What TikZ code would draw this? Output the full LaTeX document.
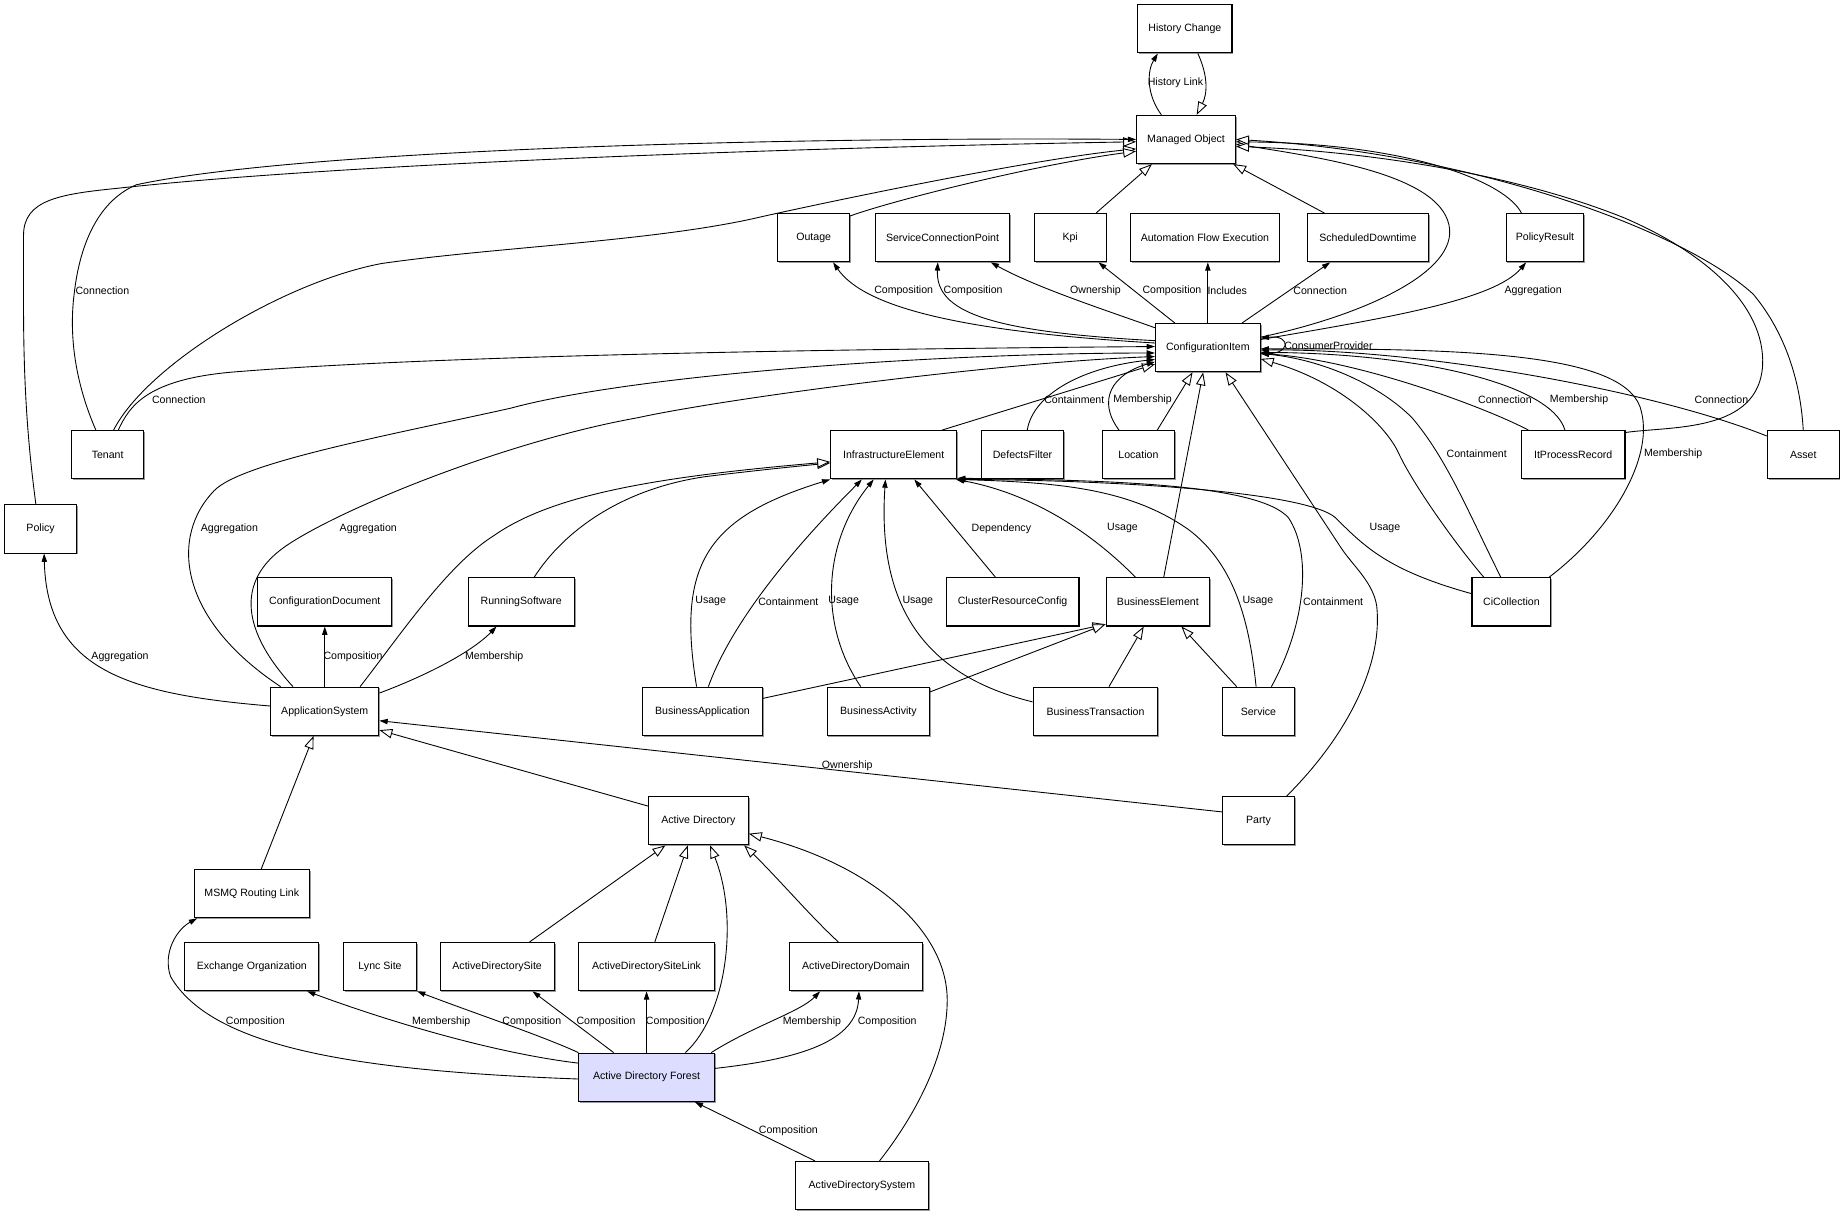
\documentclass[tikz,border=0pt]{standalone}
\usepackage{fontspec}
\setmainfont{Liberation Sans}
\usetikzlibrary{arrows.meta,shadows}
\definecolor{adfill}{RGB}{221,221,255}
\tikzset{
  box/.style={draw, line width=0.9pt, fill=white, minimum height=41pt, inner sep=0pt,
    font=\fontsize{9}{10}\selectfont,
    drop shadow={shadow xshift=1.1pt, shadow yshift=-1.1pt, fill=black!40, opacity=1}},
  conn/.style={line width=0.75pt},
  assoc/.style={conn, -{Triangle[length=7pt,width=4.5pt]}},
  gen/.style={conn, -{Triangle[length=11pt,width=8pt,fill=white]}},
  lbl/.style={font=\fontsize{9}{10}\selectfont, inner sep=0pt}
}
\begin{document}
\begin{tikzpicture}[x=1pt,y=-1pt]
\useasboundingbox (0,0) rectangle (1568,1034);
\fill[white] (0,0) rectangle (1568,1034);
% nodes
\node[box,minimum width=80pt] (hc) at (1007,24.5) {History Change};
\node[box,minimum width=84pt] (mo) at (1008,118.5) {Managed Object};
\node[box,minimum width=61pt] (outage) at (691.5,202) {Outage};
\node[box,minimum width=114pt] (scp) at (801,202) {ServiceConnectionPoint};
\node[box,minimum width=61pt] (kpi) at (909.5,202) {Kpi};
\node[box,minimum width=126pt] (afe) at (1024,202) {Automation Flow Execution};
\node[box,minimum width=103pt] (sd) at (1162.5,202) {ScheduledDowntime};
\node[box,minimum width=66pt] (pr) at (1313,202) {PolicyResult};
\node[box,minimum width=89pt] (ci) at (1026.5,295.5) {ConfigurationItem};
\node[box,minimum width=61pt] (tenant) at (91.5,386.5) {Tenant};
\node[box,minimum width=61pt] (policy) at (34.5,449.5) {Policy};
\node[box,minimum width=107pt] (ie) at (759.5,386.5) {InfrastructureElement};
\node[box,minimum width=70pt] (df) at (869,386.5) {DefectsFilter};
\node[box,minimum width=61pt] (loc) at (967.5,386.5) {Location};
\node[box,minimum width=88pt] (ipr) at (1337,386.5) {ItProcessRecord};
\node[box,minimum width=61pt] (asset) at (1532.5,386.5) {Asset};
\node[box,minimum width=114pt] (cd) at (276,511.5) {ConfigurationDocument};
\node[box,minimum width=90pt] (rs) at (443,511.5) {RunningSoftware};
\node[box,minimum width=113pt] (crc) at (860.5,511.5) {ClusterResourceConfig};
\node[box,minimum width=88pt] (be) at (984,511.5) {BusinessElement};
\node[box,minimum width=67pt] (cic) at (1284.5,511.5) {CiCollection};
\node[box,minimum width=92pt] (apps) at (276,604.5) {ApplicationSystem};
\node[box,minimum width=102pt] (ba) at (597,604.5) {BusinessApplication};
\node[box,minimum width=87pt] (bact) at (746.5,604.5) {BusinessActivity};
\node[box,minimum width=106pt] (bt) at (931,604.5) {BusinessTransaction};
\node[box,minimum width=61pt] (svc) at (1069.5,604.5) {Service};
\node[box,minimum width=85pt] (ad) at (593.5,697.5) {Active Directory};
\node[box,minimum width=61pt] (party) at (1069.5,697.5) {Party};
\node[box,minimum width=98pt] (msmq) at (214,759.5) {MSMQ Routing Link};
\node[box,minimum width=114pt] (eo) at (214,821.5) {Exchange Organization};
\node[box,minimum width=62pt] (lync) at (323,821.5) {Lync Site};
\node[box,minimum width=97pt] (adsite) at (422.5,821.5) {ActiveDirectorySite};
\node[box,minimum width=115pt] (adsl) at (549.5,821.5) {ActiveDirectorySiteLink};
\node[box,minimum width=113pt] (add) at (727.5,821.5) {ActiveDirectoryDomain};
\node[box,minimum width=115pt,fill=adfill] (adf) at (549.5,915.5) {Active Directory Forest};
\node[box,minimum width=113pt] (adsys) at (732.5,1007.5) {ActiveDirectorySystem};
% top
\draw[assoc] ([xshift=-21]mo.north) .. controls (974,80) and (975,60) .. ([xshift=-23]hc.south) node[lbl] at (999,70) {History Link};
\draw[gen] ([xshift=11]hc.south) .. controls (1027,65) and (1026,80) .. ([xshift=9]mo.north);
% into Managed Object
\draw[gen] ([xshift=-4]policy.north) .. controls (24,380) and (20,330) .. (20,260) -- (20,200) .. controls (20,170) and (50,165) .. (100,160) .. controls (300,138) and (700,125) .. ([yshift=-2]mo.west);
\draw[assoc] ([xshift=-10]tenant.north) .. controls (66,330) and (58,290) .. (63,250) .. controls (68,205) and (85,170) .. (116,157) .. controls (250,128) and (650,116) .. (mo.west) node[lbl] at (87,247) {Connection};
\draw[gen] ([xshift=5]tenant.north) .. controls (125,310) and (240,240) .. (324,224) .. controls (420,210) and (560,205) .. (648,184) .. controls (720,168) and (880,135) .. ([yshift=-8]mo.west);
\draw[gen] ([yshift=-2.5]outage.north east) .. controls (760,170) and (880,140) .. ([yshift=-10]mo.west);
\draw[gen] ([xshift=22]kpi.north) -- ([xshift=-29]mo.south);
\draw[gen] ([xshift=-37]sd.north) -- ([xshift=40]mo.south);
\draw[gen] ([yshift=9]ci.east) .. controls (1150,270) and (1235,235) .. (1232,195) .. controls (1228,150) and (1130,135) .. ([yshift=-4]mo.east);
\draw[gen] ([xshift=-20]pr.north) .. controls (1280,155) and (1200,122) .. ([yshift=-2]mo.east);
\draw[gen] ([yshift=-2]ipr.north east) .. controls (1420,362) and (1495,368) .. (1498,310) .. controls (1500,260) and (1450,215) .. (1380,185) .. controls (1280,145) and (1150,128) .. ([yshift=-6]mo.east);
\draw[gen] (asset.north) .. controls (1530,320) and (1515,280) .. (1490,250) .. controls (1430,195) and (1250,130) .. (mo.east);
% out of ConfigurationItem
\draw[assoc] ([yshift=4]ci.west) .. controls (820,282) and (735,262) .. ([xshift=16.5]outage.south) node[lbl] at (768,247) {Composition};
\draw[assoc] ([yshift=6]ci.west) .. controls (840,282) and (795,265) .. ([xshift=-4]scp.south) node[lbl] at (827,247) {Composition};
\draw[assoc] ([yshift=-4]ci.north west) .. controls (935,262) and (880,244) .. ([xshift=41]scp.south) node[lbl] at (931,247) {Ownership};
\draw[assoc] ([xshift=-28]ci.north) -- ([xshift=24]kpi.south) node[lbl] at (996,247) {Composition};
\draw[assoc] (ci.north) -- (ci.north |- afe.south) node[lbl] at (1043,247) {Includes};
\draw[assoc] ([xshift=29]ci.north) -- ([xshift=-32]sd.south) node[lbl] at (1122,247) {Connection};
\draw[assoc] ([yshift=7]ci.east) .. controls (1180,270) and (1270,255) .. ([xshift=-16]pr.south) node[lbl] at (1303,247) {Aggregation};
\draw[assoc] ([yshift=-5]ci.east) .. controls (1098,303) and (1098,284) .. ([yshift=8]ci.east) node[lbl] at (1129,294) {ConsumerProvider};
% into ConfigurationItem from the left
\draw[assoc] ([xshift=9]tenant.north) .. controls (110,345) and (125,322) .. (200,316) .. controls (400,300) and (800,296) .. ([yshift=1]ci.west) node[lbl] at (152,340) {Connection};
\draw[assoc] ([xshift=-37.5]apps.north) .. controls (150,525) and (145,455) .. (182,417) .. controls (205,393) and (330,370) .. (433.6,347) .. controls (540,318) and (800,300) .. ([yshift=-4.5]ci.west) node[lbl] at (195,449) {Aggregation};
\draw[assoc] ([xshift=-27]apps.north) .. controls (200,530) and (205,490) .. (243,464) .. controls (290,432) and (430,375) .. (542,355) .. controls (620,338) and (850,308) .. ([yshift=-7.5]ci.west) node[lbl] at (313,449) {Aggregation};
\draw[gen] ([xshift=41]ie.north) -- ([yshift=-14]ci.west);
\draw[assoc] ([xshift=4]df.north) .. controls (878,335) and (920,312) .. ([yshift=-10]ci.west) node[lbl] at (913,340) {Containment};
\draw[assoc] ([xshift=-16.5]loc.north) .. controls (932,340) and (945,318) .. ([yshift=-12]ci.west) node[lbl] at (971,340) {Membership};
\draw[gen] ([xshift=16]loc.north) -- ([xshift=-13]ci.south);
\draw[gen] ([xshift=5]be.north) -- ([xshift=-4]ci.south);
\draw[gen] ([xshift=24]party.north) .. controls (1150,620) and (1175,560) .. (1170,515) .. controls (1167,495) and (1150,481) .. (1140,466) -- ([xshift=15]ci.south);
% into ConfigurationItem from the right
\draw[assoc] ([xshift=-38]ipr.north) .. controls (1260,345) and (1150,305) .. ([yshift=-5]ci.east) node[lbl] at (1279,340) {Connection};
\draw[assoc] ([xshift=-7]ipr.north) .. controls (1318,325) and (1200,300) .. ([yshift=-4]ci.east) node[lbl] at (1342,340) {Membership};
\draw[assoc] ([yshift=-5]asset.north west) .. controls (1400,330) and (1200,296) .. ([yshift=-2]ci.east) node[lbl] at (1463,340) {Connection};
\draw[gen] ([xshift=-23.5]cic.north) .. controls (1235,460) and (1200,410) .. (1188.6,385) .. controls (1178,362) and (1140,325) .. ([yshift=-9.5]ci.east);
\draw[assoc] ([xshift=-9]cic.north) .. controls (1250,440) and (1230,390) .. (1200,355) .. controls (1170,325) and (1120,305) .. ([yshift=-5]ci.east) node[lbl] at (1255,386) {Containment};
\draw[assoc] ([xshift=32]cic.north) .. controls (1370,450) and (1405,390) .. (1395,350) .. controls (1385,300) and (1250,296) .. ([yshift=-1]ci.east) node[lbl] at (1422,386) {Membership};
% into InfrastructureElement
\draw[assoc] ([yshift=7]cic.west) .. controls (1180,485) and (1160,465) .. (1135,440) .. controls (1110,418) and (950,408) .. (ie.south east) node[lbl] at (1177,449) {Usage};
\draw[assoc] ([xshift=-19]be.north) .. controls (930,455) and (880,420) .. ([xshift=-1]ie.south east) node[lbl] at (954,449) {Usage};
\draw[assoc] ([xshift=-2]svc.north) .. controls (1062,530) and (1050,480) .. (1010,450) .. controls (960,415) and (900,410) .. (ie.south east) node[lbl] at (1069,511) {Usage};
\draw[assoc] ([xshift=11]svc.north) .. controls (1110,530) and (1115,470) .. (1095,440) .. controls (1070,412) and (950,408) .. ([yshift=1]ie.south east) node[lbl] at (1133,511) {Containment};
\draw[assoc] ([xshift=-5]ba.north) .. controls (575,480) and (600,440) .. (ie.south west) node[lbl] at (604,511) {Usage};
\draw[assoc] ([xshift=5]ba.north) .. controls (625,520) and (690,450) .. ([xshift=-27]ie.south) node[lbl] at (670,511) {Containment};
\draw[assoc] ([xshift=-15]bact.north) .. controls (695,530) and (700,460) .. ([xshift=-17]ie.south) node[lbl] at (717,511) {Usage};
\draw[assoc] ([yshift=8]bt.west) .. controls (790,575) and (745,520) .. ([xshift=-7]ie.south) node[lbl] at (780,511) {Usage};
\draw[assoc] ([xshift=-14.5]crc.north) -- ([xshift=17.5]ie.south) node[lbl] at (851,449) {Dependency};
\draw[gen] ([xshift=11]rs.north) .. controls (480,450) and (530,415) .. (600,405) .. controls (640,400) and (680,396) .. ([yshift=-7]ie.west);
\draw[gen] ([xshift=30]apps.north) .. controls (340,540) and (380,480) .. (420,455) .. controls (470,420) and (560,405) .. ([yshift=-6]ie.west);
% into BusinessElement
\draw[gen] ([yshift=11]ba.east) -- ([yshift=-19]be.west);
\draw[gen] ([yshift=16.5]bact.east) -- ([yshift=-19]be.west);
\draw[gen] ([xshift=11.5]bt.north) -- ([xshift=-12]be.south);
\draw[gen] ([xshift=-18.5]svc.north) -- ([xshift=20]be.south);
% ApplicationSystem
\draw[assoc] ([yshift=4.5]apps.west) .. controls (110,590) and (40,570) .. ([xshift=3]policy.south) node[lbl] at (102,558) {Aggregation};
\draw[assoc] (apps.north) -- (cd.south) node[lbl] at (300,558) {Composition};
\draw[assoc] ([yshift=15.5]apps.east) .. controls (360,575) and (400,555) .. ([xshift=-21]rs.south) node[lbl] at (420,558) {Membership};
\draw[assoc] ([yshift=7.5]party.west) -- ([yshift=-8]apps.east) node[lbl] at (720,651) {Ownership};
\draw[gen] ([yshift=12.5]ad.west) -- ([yshift=-16]apps.east);
\draw[gen] ([xshift=8]msmq.north) -- ([xshift=-9.5]apps.south);
% Active Directory
\draw[gen] ([xshift=27.5]adsite.north) -- ([xshift=-28]ad.south);
\draw[gen] ([xshift=7]adsl.north) -- ([xshift=-9]ad.south);
\draw[gen] ([xshift=33]adf.north) .. controls (618,862) and (628,780) .. ([xshift=10]ad.south);
\draw[gen] ([xshift=-15]add.north) .. controls (690,780) and (660,745) .. ([xshift=-4]ad.south east);
\draw[gen] ([xshift=15]adsys.north) .. controls (780,945) and (805,895) .. (805,850) .. controls (805,790) and (740,735) .. ([yshift=-11]ad.east);
% Active Directory Forest
\draw[assoc] ([yshift=-1.5]adf.west) .. controls (300,910) and (180,890) .. (145,830) .. controls (138,810) and (150,790) .. ([xshift=3]msmq.south west) node[lbl] at (217,868) {Composition};
\draw[assoc] ([yshift=12]adf.west) .. controls (420,895) and (330,868) .. ([xshift=47]eo.south) node[lbl] at (375,868) {Membership};
\draw[assoc] (adf.north west) .. controls (460,880) and (400,860) .. (lync.south east) node[lbl] at (452,868) {Composition};
\draw[assoc] ([xshift=-28]adf.north) -- ([xshift=30]adsite.south) node[lbl] at (515,868) {Composition};
\draw[assoc] (adf.north) -- (adsl.south) node[lbl] at (574,868) {Composition};
\draw[assoc] ([xshift=-3]adf.north east) .. controls (640,872) and (680,860) .. ([xshift=-30.5]add.south) node[lbl] at (690,868) {Membership};
\draw[assoc] ([yshift=7.5]adf.east) .. controls (680,900) and (728,885) .. ([xshift=2.5]add.south) node[lbl] at (754,868) {Composition};
\draw[assoc] ([xshift=-40]adsys.north) -- ([xshift=41]adf.south) node[lbl] at (670,961) {Composition};
\end{tikzpicture}
\end{document}
